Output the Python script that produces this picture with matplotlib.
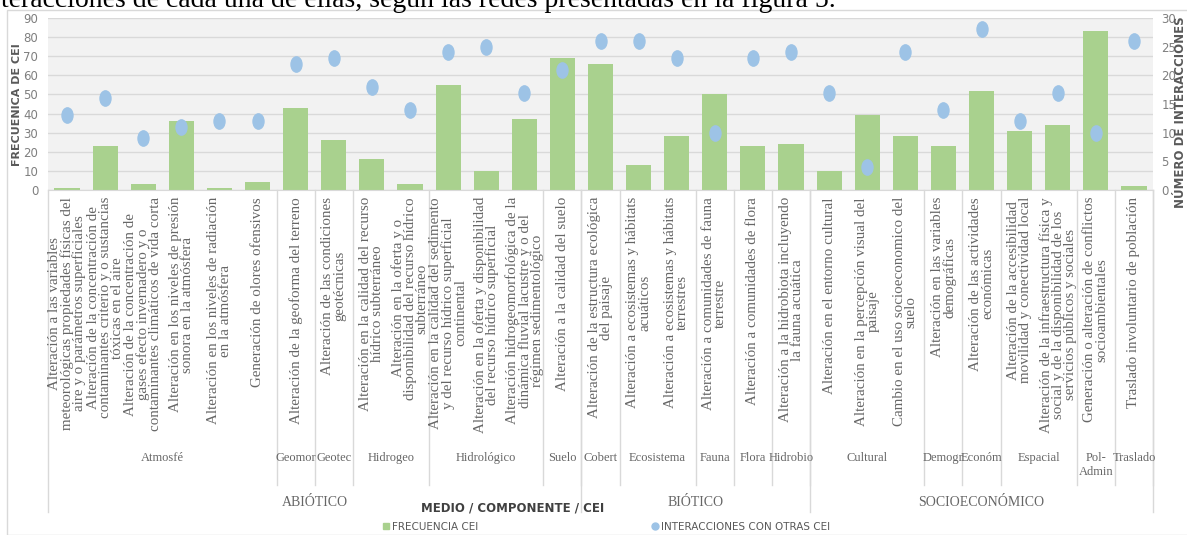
import itertools

import numpy as np
import matplotlib
matplotlib.use('Agg')
import matplotlib.pyplot as plt
import matplotlib.transforms as mtransforms
from matplotlib.path import Path
from matplotlib.lines import Line2D
from matplotlib.patches import Rectangle

# CEI labels (level 1 of the category axis)
cei = [
    "Alteración a las variables\nmeteorológicas propiedades físicas del\naire y o parámetros superficiales",
    "Alteración de la concentración de\ncontaminantes criterio y o sustancias\ntóxicas en el aire",
    "Alteración de la concentración de\ngases efecto invernadero y o\ncontaminantes climáticos de vida corta",
    "Alteración en los niveles de presión\nsonora en la atmósfera",
    "Alteración en los niveles de radiación\nen la atmósfera",
    "Generación de olores ofensivos",
    "Alteración de la geoforma del terreno",
    "Alteración de las condiciones\ngeotécnicas",
    "Alteración en la calidad del recurso\nhídrico subterráneo",
    "Alteración en la oferta y o\ndisponibilidad del recurso hídrico\nsubterráneo",
    "Alteración en la calidad del sedimento\ny del recurso hídrico superficial\ncontinental",
    "Alteración en la oferta y disponibilidad\ndel recurso hídrico superficial",
    "Alteración hidrogeomorfológica de la\ndinámica fluvial lacustre y o del\nrégimen sedimentológico",
    "Alteración a la calidad del suelo",
    "Alteración de la estructura ecológica\ndel paisaje",
    "Alteración a ecosistemas y hábitats\nacuáticos",
    "Alteración a ecosistemas y hábitats\nterrestres",
    "Alteración a comunidades de fauna\nterrestre",
    "Alteración a comunidades de flora",
    "Alteración a la hidrobiota incluyendo\nla fauna acuática",
    "Alteración en el entorno cultural",
    "Alteración en la percepción visual del\npaisaje",
    "Cambio en el uso socioeconomico del\nsuelo",
    "Alteración en las variables\ndemográficas",
    "Alteración de las actividades\neconómicas",
    "Alteración de la accesibilidad\nmovilidad y conectividad local",
    "Alteración de la infraestructura física y\nsocial y de la disponibilidad de los\nservicios públicos y sociales",
    "Generación o alteración de conflictos\nsocioambientales",
    "Traslado involuntario de población",
]

# component (level 2) and medio (level 3) of each CEI
componente = (["Atmosfé"] * 6 + ["Geomor", "Geotec"] + ["Hidrogeo"] * 2
              + ["Hidrológico"] * 3 + ["Suelo", "Cobert"] + ["Ecosistema"] * 2
              + ["Fauna", "Flora", "Hidrobio"] + ["Cultural"] * 3
              + ["Demogr", "Económ"] + ["Espacial"] * 2 + ["Pol-\nAdmin", "Traslado"])
medio = ["ABIÓTICO"] * 14 + ["BIÓTICO"] * 6 + ["SOCIOECONÓMICO"] * 9

frecuencia = [1, 23, 3, 36, 1, 4, 43, 26, 16, 3, 55, 10, 37, 69, 66,
              13, 28, 50, 23, 24, 10, 39, 28, 23, 52, 31, 34, 83, 2]
interacciones = [13, 16, 9, 11, 12, 12, 22, 23, 18, 14, 24, 25, 17, 21, 26,
                 26, 23, 10, 23, 24, 17, 4, 24, 14, 28, 12, 17, 10, 26]

GREEN = '#a9d18e'
BLUE = '#9dc3e6'
GRAY_TXT = '#666666'
LINE = '#d9d9d9'
SERIF = 'Liberation Serif'

W, H = 1187, 535
fig = plt.figure(figsize=(W / 100, H / 100), dpi=100)

# frame round the chart and the cut-off line of body text above it
fig.patches.append(Rectangle((7 / W, 0), 1.0, 1 - 10 / H, transform=fig.transFigure,
                             facecolor='none', edgecolor=LINE, lw=1))
fig.text(1 / W, 1 - 7 / H,
         "teracciones de cada una de ellas, según las redes presentadas en la figura 5.",
         family=SERIF, fontsize=20, va='baseline', ha='left', color='black')

ax = fig.add_axes([48 / W, 1 - 190 / H, (1153 - 48) / W, (190 - 18) / H])
ax.set_facecolor('#f2f2f2')
x = np.arange(len(cei))

ax.bar(x, frecuencia, width=0.66, color=GREEN, zorder=2)
ax.set_xlim(-0.5, len(cei) - 0.5)
ax.set_ylim(0, 90)
ax.set_yticks(range(0, 91, 10))
ax.set_xticks([])
ax.yaxis.grid(True, color=LINE, lw=1)
ax.set_axisbelow(True)
for s in ['top', 'left', 'right']:
    ax.spines[s].set_visible(False)
ax.spines['bottom'].set_color(LINE)
ax.tick_params(axis='y', length=0, pad=7, labelsize=8.5, labelcolor='#7f7f7f')

ax2 = ax.twinx()
dot = Path.unit_circle().transformed(mtransforms.Affine2D().scale(0.72, 1.0))
ax2.plot(x, interacciones, linestyle='none', marker=dot, markersize=11,
         color=BLUE, zorder=3)
ax2.set_ylim(0, 30)
ax2.set_yticks(range(0, 31, 5))
for s in ax2.spines.values():
    s.set_visible(False)
ax2.tick_params(axis='y', length=0, pad=6, labelsize=8.5, labelcolor='#7f7f7f')

fig.text(17 / W, 1 - 105 / H, "FRECUENICA DE CEI", rotation=90, ha='center', va='center',
         fontsize=8, fontweight='bold', color='#595959')
fig.text(1181 / W, 1 - 112 / H, "NÚMERO DE INTERACCIONES", rotation=90, ha='center',
         va='center', fontsize=8.5, fontweight='bold', color='#595959')

# multi-level category axis
tr = ax.get_xaxis_transform()
px = lambda ypx: (190 - ypx) / 172.0

for i, lab in enumerate(cei):
    ax.text(i, px(197), lab, transform=tr, rotation=90, ha='center', va='top',
            multialignment='center', family=SERIF, fontsize=10.8, linespacing=0.9,
            color=GRAY_TXT, clip_on=False)

def groups(keys):
    out = []
    for k, g in itertools.groupby(enumerate(keys), key=lambda t: t[1]):
        idx = [t[0] for t in g]
        out.append((k, idx[0], idx[-1]))
    return out

for name, a, b in groups(componente):
    ax.text((a + b) / 2, px(452), name, transform=tr, ha='center', va='top',
            family=SERIF, fontsize=9, color=GRAY_TXT, linespacing=1.25, clip_on=False)
    ax.plot([b + 0.5, b + 0.5], [0, px(485)], transform=tr, color=LINE, lw=1,
            clip_on=False)

for name, a, b in groups(medio):
    ax.text((a + b) / 2, px(502), name, transform=tr, ha='center', va='center',
            family=SERIF, fontsize=10, color=GRAY_TXT, clip_on=False)
    ax.plot([b + 0.5, b + 0.5], [0, px(512)], transform=tr, color=LINE, lw=1,
            clip_on=False)
ax.plot([-0.5, -0.5], [0, px(512)], transform=tr, color=LINE, lw=1, clip_on=False)

fig.text(513 / W, 1 - 508 / H, "MEDIO / COMPONENTE / CEI", ha='center', va='center',
         fontsize=8.5, fontweight='bold', color='#404040')

# legend, two entries spread apart as in the original
h1 = Line2D([], [], linestyle='none', marker='s', markersize=5, color=GREEN)
h2 = Line2D([], [], linestyle='none', marker='o', markersize=5, color=BLUE)
for h, lab, xpx in [(h1, "FRECUENCIA CEI", 383), (h2, "INTERACCIONES CON OTRAS CEI", 652)]:
    fig.legend([h], [lab], loc='center left', bbox_to_anchor=(xpx / W, 1 - 527 / H),
               frameon=False, fontsize=7.5, labelcolor='#595959', handlelength=0.6,
               handletextpad=0.3, borderpad=0, borderaxespad=0)

fig.savefig('out.png', dpi=100)
